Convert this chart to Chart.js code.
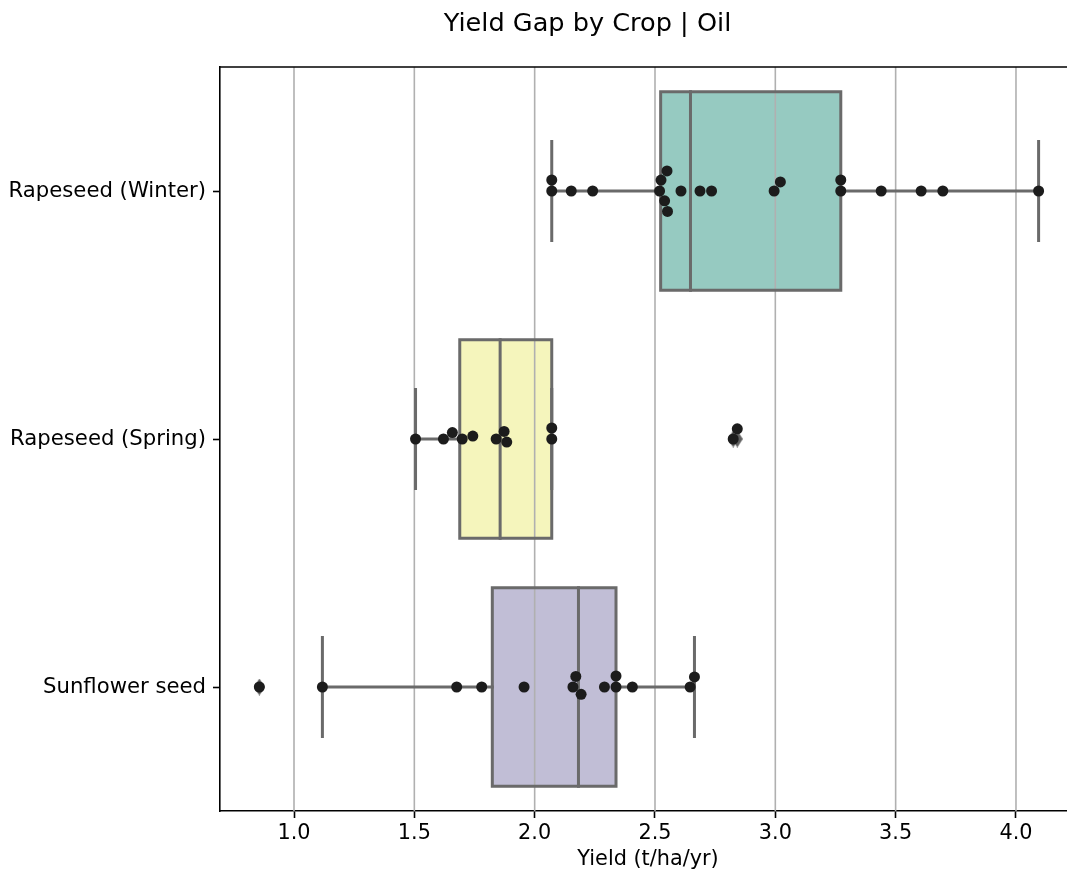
<!DOCTYPE html>
<html>
<head>
<meta charset="utf-8">
<title>Yield Gap by Crop | Oil</title>
<script src="https://cdn.jsdelivr.net/npm/chart.js@4/dist/chart.umd.min.js"></script>
<style>
  html, body { margin: 0; padding: 0; background: #ffffff; }
  #wrap { width: 1067px; height: 877px; }
</style>
</head>
<body>
<div id="wrap"><canvas id="chart" width="1067" height="877"></canvas></div>
<script>
// ---- data -------------------------------------------------------------
const categories = ['Rapeseed (Winter)', 'Rapeseed (Spring)', 'Sunflower seed'];

const winterYields = [2.071, 2.071, 2.152, 2.241, 2.519, 2.525, 2.540, 2.550, 2.552, 2.608,
                      2.687, 2.735, 2.995, 3.021, 3.272, 3.272, 3.440, 3.606, 3.696, 4.094];
const springYields = [1.505, 1.621, 1.658, 1.699, 1.743, 1.840, 1.873, 1.884, 2.071, 2.071,
                      2.825, 2.842];
const sunflowerYields = [0.856, 1.118, 1.676, 1.780, 1.956, 2.159, 2.171, 2.193, 2.290, 2.338,
                         2.338, 2.406, 2.646, 2.664];

const xTickValues = [1.0, 1.5, 2.0, 2.5, 3.0, 3.5, 4.0];

const chartTitle = 'Yield Gap by Crop | Oil';
const xAxisTitle = 'Yield (t/ha/yr)';

// ---- styling ----------------------------------------------------------
const boxColors = ['#96cac1', '#f5f5bc', '#c1bed6'];
const lineGray = '#6a6a6a';
const FONT = 'DejaVu Sans';
const CAP_HALF = 0.2;     // whisker cap half-length, in category units
const BOX_HALF = 0.4;     // box half-height, in category units
const DOT_DIAMETER = 11;  // swarm dot diameter in px

const groups = [winterYields, springYields, sunflowerYields];

// ---- box statistics (linear-interpolated quartiles, 1.5 IQR whiskers) --
function quantile(sorted, q) {
  const pos = (sorted.length - 1) * q;
  const lo = Math.floor(pos), hi = Math.ceil(pos);
  return sorted[lo] + (sorted[hi] - sorted[lo]) * (pos - lo);
}
function boxStats(values) {
  const s = [...values].sort((a, b) => a - b);
  const q1 = quantile(s, 0.25), med = quantile(s, 0.5), q3 = quantile(s, 0.75);
  const iqr = q3 - q1;
  const loFence = q1 - 1.5 * iqr, hiFence = q3 + 1.5 * iqr;
  const inside = s.filter(v => v >= loFence && v <= hiFence);
  return {
    q1, med, q3,
    lo: Math.min(...inside), hi: Math.max(...inside),
    outliers: s.filter(v => v < loFence || v > hiFence)
  };
}
const stats = groups.map(boxStats);

const GAP = { x: NaN, y: NaN };
const outlinePoints = [];
const whiskerPoints = [];
const medianPoints = [];
const flierPoints = [];
stats.forEach((s, i) => {
  outlinePoints.push(
    { x: s.q1, y: i - BOX_HALF }, { x: s.q3, y: i - BOX_HALF },
    { x: s.q3, y: i + BOX_HALF }, { x: s.q1, y: i + BOX_HALF },
    { x: s.q1, y: i - BOX_HALF }, GAP
  );
  whiskerPoints.push(
    { x: s.lo, y: i }, { x: s.q1, y: i }, GAP,
    { x: s.q3, y: i }, { x: s.hi, y: i }, GAP,
    { x: s.lo, y: i - CAP_HALF }, { x: s.lo, y: i + CAP_HALF }, GAP,
    { x: s.hi, y: i - CAP_HALF }, { x: s.hi, y: i + CAP_HALF }, GAP
  );
  medianPoints.push({ x: s.med, y: i - BOX_HALF }, { x: s.med, y: i + BOX_HALF }, GAP);
  s.outliers.forEach(v => flierPoints.push({ x: v, y: i }));
});

// thin diamond marker for outliers
const diamond = document.createElement('canvas');
diamond.width = 11; diamond.height = 17;
(function () {
  const c = diamond.getContext('2d');
  c.fillStyle = '#5f5f5f';
  c.beginPath();
  c.moveTo(5.5, 0); c.lineTo(11, 8.5); c.lineTo(5.5, 17); c.lineTo(0, 8.5);
  c.closePath(); c.fill();
})();

// ---- beeswarm placement in pixel space --------------------------------
function swarmOffsets(pixels, d) {
  const order = pixels.map((_, i) => i).sort((a, b) => pixels[a] - pixels[b]);
  const placed = [];
  const offsets = new Array(pixels.length).fill(0);
  for (const i of order) {
    const x = pixels[i];
    const near = placed.filter(p => Math.abs(p.x - x) < d);
    const cands = [0];
    near.forEach(p => {
      const dy = Math.sqrt(d * d - (p.x - x) * (p.x - x));
      cands.push(p.y - dy, p.y + dy);
    });
    const ranked = cands.map((c, k) => ({ c, k }))
      .sort((a, b) => (Math.abs(a.c) - Math.abs(b.c)) || (a.k - b.k));
    let chosen = 0;
    for (const { c } of ranked) {
      if (near.every(p => (p.x - x) ** 2 + (p.y - c) ** 2 >= d * d - 1e-6)) { chosen = c; break; }
    }
    placed.push({ x, y: chosen });
    offsets[i] = chosen;
  }
  return offsets;
}

// ---- plugins ------------------------------------------------------------
const frame = {
  id: 'frame',
  // vertical grid sits above box fills, below outlines and dots
  afterDatasetDraw(chart, args) {
    if (args.index !== 0) return;
    const { ctx, chartArea: a, scales: { x } } = chart;
    ctx.save();
    ctx.strokeStyle = '#b0b0b0';
    ctx.lineWidth = 1.6;
    x.ticks.forEach(t => {
      const px = x.getPixelForValue(t.value);
      ctx.beginPath(); ctx.moveTo(px, a.top); ctx.lineTo(px, a.bottom); ctx.stroke();
    });
    ctx.restore();
  },
  afterDraw(chart) {
    const { ctx, chartArea: a } = chart;
    ctx.save();
    // top spine
    ctx.strokeStyle = '#000000';
    ctx.lineWidth = 1.6;
    ctx.beginPath(); ctx.moveTo(a.left - 0.8, a.top); ctx.lineTo(a.right, a.top); ctx.stroke();
    ctx.fillStyle = '#000000';
    ctx.textAlign = 'center';
    // figure title
    ctx.font = '25.6px "' + FONT + '"';
    ctx.textBaseline = 'alphabetic';
    ctx.fillText(chartTitle, 587.5, 31);
    // x-axis title, centred under the full axes frame
    ctx.font = '20.8px "' + FONT + '"';
    ctx.textBaseline = 'middle';
    ctx.fillText(xAxisTitle, 648, 860);
    ctx.restore();
  }
};

const lineDataset = (data, order) => ({
  type: 'scatter', indexAxis: 'x', data, order,
  xAxisID: 'x', yAxisID: 'y2',
  showLine: true, spanGaps: false,
  borderColor: lineGray, borderWidth: 3, borderCapStyle: 'square', borderJoinStyle: 'miter',
  pointRadius: 0, pointHoverRadius: 0, tension: 0
});

const chart = new Chart(document.getElementById('chart'), {
  type: 'bar',
  data: {
    labels: categories,
    datasets: [
      { // box fill
        type: 'bar', indexAxis: 'y', order: 10,
        data: stats.map(s => [s.q1, s.q3]),
        xAxisID: 'x', yAxisID: 'y',
        backgroundColor: boxColors, borderWidth: 0,
        categoryPercentage: 1, barPercentage: 2 * BOX_HALF, grouped: false, inflateAmount: 0
      },
      lineDataset(outlinePoints, 8),
      lineDataset(whiskerPoints, 7),
      lineDataset(medianPoints, 6),
      { // outliers
        type: 'scatter', indexAxis: 'x', order: 5, data: flierPoints,
        xAxisID: 'x', yAxisID: 'y2',
        pointStyle: diamond, pointRadius: 8, pointHoverRadius: 8
      },
      { // individual observations
        type: 'scatter', indexAxis: 'x', order: 1, data: [],
        xAxisID: 'x', yAxisID: 'y2',
        pointStyle: 'circle', pointRadius: DOT_DIAMETER / 2, pointHoverRadius: DOT_DIAMETER / 2,
        backgroundColor: '#1c1c1c', borderWidth: 0
      }
    ]
  },
  options: {
    indexAxis: 'y',
    responsive: false,
    animation: false,
    devicePixelRatio: 1,
    events: [],
    layout: { autoPadding: false, padding: { left: 0, right: 0, top: 67, bottom: 0 } },
    plugins: {
      legend: { display: false },
      tooltip: { enabled: false },
      title: { display: false }
    },
    scales: {
      x: {
        type: 'linear', axis: 'x', position: 'bottom',
        min: 0.6925, max: 4.212, offset: false, beginAtZero: false,
        afterBuildTicks: s => { s.ticks = xTickValues.map(v => ({ value: v })); },
        afterFit: s => { s.height = 66; s.paddingLeft = 0; s.paddingRight = 0; },
        border: { display: true, color: '#000000', width: 1.6 },
        grid: { drawOnChartArea: false, drawTicks: true, tickLength: 7, tickColor: '#000000', tickWidth: 1.6, offset: false },
        ticks: {
          color: '#000000', padding: 3, maxRotation: 0, autoSkip: false,
          font: { family: FONT, size: 20.8 },
          callback: v => Number(v).toFixed(1)
        },
        title: { display: false }
      },
      y: {
        type: 'category', axis: 'y', position: 'left', offset: true,
        afterFit: s => { s.width = 220; s.paddingTop = 0; s.paddingBottom = 0; },
        border: { display: true, color: '#000000', width: 1.6 },
        grid: { drawOnChartArea: false, drawTicks: true, tickLength: 7, tickColor: '#000000', tickWidth: 1.6, offset: false },
        ticks: { color: '#000000', padding: 7, font: { family: FONT, size: 21.2 } }
      },
      y2: {
        type: 'linear', axis: 'y', position: 'right', display: false,
        offset: false, grid: { offset: false }, grace: 0,
        min: -0.5, max: 2.5, reverse: true
      }
    }
  },
  plugins: [frame]
});

// place the observation dots as a beeswarm around each category line
(function placeSwarm() {
  const xs = chart.scales.x, ys = chart.scales.y2;
  const pts = [];
  groups.forEach((vals, i) => {
    const px = vals.map(v => xs.getPixelForValue(v));
    const offs = swarmOffsets(px, DOT_DIAMETER);
    const center = ys.getPixelForValue(i);
    vals.forEach((v, k) => pts.push({ x: v, y: ys.getValueForPixel(center + offs[k]) }));
  });
  chart.data.datasets[5].data = pts;
  chart.update('none');
})();
</script>
</body>
</html>
